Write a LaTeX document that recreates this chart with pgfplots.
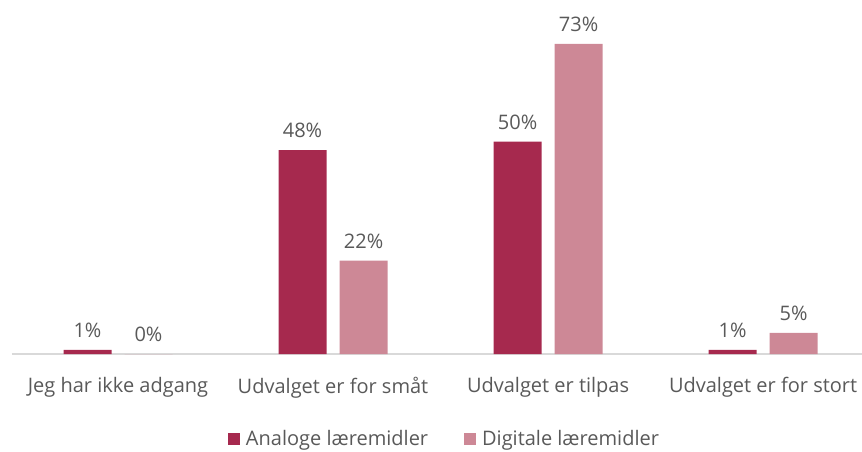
\documentclass[border=0pt]{standalone}
\usepackage{pgfplots}
\pgfplotsset{compat=1.18}
\usepackage{fontspec}
\setmainfont{Open Sans}
\definecolor{analog}{HTML}{A6294E}
\definecolor{digital}{HTML}{CD8896}
\definecolor{txt}{HTML}{595959}
\definecolor{axisgray}{HTML}{D9D9D9}

\begin{document}
\begin{tikzpicture}
\begin{axis}[
    scale only axis, width=425pt, height=177pt,
    ybar=6.5pt, bar width=24pt,
    xmin=-0.493, xmax=3.46, ymin=0, ymax=83.3,
    axis y line=none, axis x line*=bottom,
    x axis line style={draw=axisgray, line width=0.6pt},
    xtick=data, xtick style={draw=none},
    xticklabels={Jeg har ikke adgang, Udvalget er for småt, Udvalget er tilpas, Udvalget er for stort},
    xticklabel style={font=\fontsize{10}{12}\selectfont, text=txt, yshift=-4pt},
    /pgf/number format/assume math mode=true,
    nodes near coords={\pgfmathprintnumber{\pgfplotspointmeta}\%},
    nodes near coords style={font=\fontsize{10}{12}\selectfont, text=txt, yshift=2.5pt},
    every axis plot/.append style={draw=none},
    clip=false,
    legend style={at={(0.51,-0.24)}, anchor=center, draw=none, fill=none,
      font=\fontsize{10}{12}\selectfont, text=txt, column sep=1pt,
      /tikz/every even column/.append style={column sep=16pt}},
    legend columns=2,
    legend image code/.code={\fill[#1] (0pt,-3pt) rectangle (6pt,3pt);},
  ]
  \addplot[fill=analog] coordinates {(0,1) (1,48) (2,50) (3,1)};
  \addlegendentry{Analoge læremidler}
  \addplot[fill=digital] coordinates {(0,0) (1,22) (2,73) (3,5)};
  \addlegendentry{Digitale læremidler}
\end{axis}
\pgfresetboundingbox
\path (current axis.south west) ++(-6pt,-48.5pt) rectangle ++(431pt,225.5pt);
\end{tikzpicture}
\end{document}
